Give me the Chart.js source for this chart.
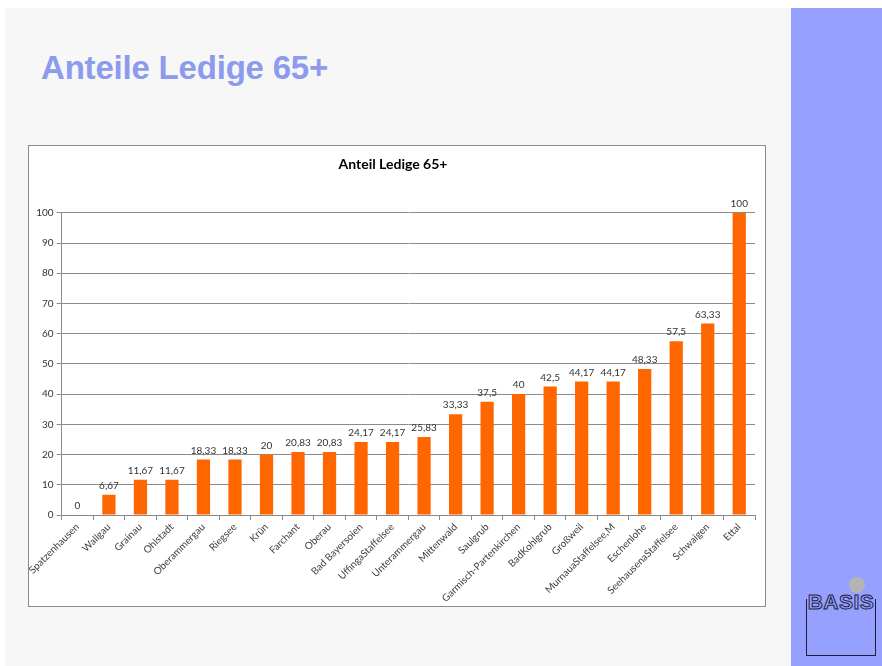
<!DOCTYPE html>
<html>
<head>
<meta charset="utf-8">
<script src="https://cdn.jsdelivr.net/npm/chart.js@4/dist/chart.umd.min.js"></script>
<style>
  html, body { margin: 0; padding: 0; background: #ffffff; }
  body { width: 882px; height: 666px; position: relative; overflow: hidden; }
  #page { position: absolute; left: 5px; top: 8px; width: 786px; height: 658px; background: #f7f7f7; }
  #side { position: absolute; left: 791px; top: 8px; width: 91px; height: 658px; background: #96a0fe; }
  #heading { position: absolute; left: 41px; top: 49px; font-family: "Liberation Sans", Arial, sans-serif; font-weight: bold; font-size: 33px; color: #8c9bee; letter-spacing: -0.2px; }
  #box { position: absolute; left: 28px; top: 145px; width: 736px; height: 460px; background: #ffffff; border: 1px solid #8a8a8a; }
  #c { position: absolute; left: 0; top: 0; }
  #logoCircle { position: absolute; left: 849px; top: 577px; width: 16px; height: 16px; border-radius: 50%; background: #b4b4b4; }
  #logoBox { position: absolute; left: 806px; top: 599px; width: 68px; height: 56px; border: 1.5px solid #1e1e3c; border-top: none; }
  #logoText { position: absolute; left: 803px; top: 590px; width: 76px; text-align: center; font-family: "Liberation Sans", sans-serif; font-weight: bold; font-size: 21px; color: #96a0fe; -webkit-text-stroke: 1px #1e1e3c; letter-spacing: 0.5px; }
</style>
</head>
<body>
<div id="page"></div>
<div id="side"></div>
<div id="heading">Anteile Ledige 65+</div>
<div id="box"><canvas id="c" width="736" height="460"></canvas></div>
<div id="logoCircle"></div>
<div id="logoBox"></div>
<div id="logoText">BASIS</div>
<script>
const categories = ["Spatzenhausen", "Wallgau", "Grainau", "Ohlstadt", "Oberammergau", "Riegsee", "Krün", "Farchant", "Oberau", "Bad Bayersoien", "UffingaStaffelsee", "Unterammergau", "Mittenwald", "Saulgrub", "Garmisch-Partenkirchen", "BadKohlgrub", "Großweil", "MurnauaStaffelsee,M", "Eschenlohe", "SeehausenaStaffelsee", "Schwaigen", "Ettal"];
const values = [0, 6.67, 11.67, 11.67, 18.33, 18.33, 20, 20.83, 20.83, 24.17, 24.17, 25.83, 33.33, 37.5, 40, 42.5, 44.17, 44.17, 48.33, 57.5, 63.33, 100];
const yTicks = [0, 10, 20, 30, 40, 50, 60, 70, 80, 90, 100];
const chartTitle = "Anteil Ledige 65+";

const FONT = "Lato, 'Open Sans', sans-serif";

const valueLabels = {
  id: 'valueLabels',
  afterDatasetsDraw(chart) {
    const ctx = chart.ctx;
    const meta = chart.getDatasetMeta(0);
    ctx.save();
    ctx.font = "10px " + FONT;
    ctx.fillStyle = "#333333";
    ctx.textAlign = "center";
    ctx.textBaseline = "bottom";
    meta.data.forEach((bar, i) => {
      const txt = String(values[i]).replace('.', ',');
      ctx.fillText(txt, bar.x, bar.y - 4);
    });
    ctx.restore();
  }
};

new Chart(document.getElementById('c'), {
  type: 'bar',
  data: {
    labels: categories,
    datasets: [{
      data: values,
      backgroundColor: '#ff6600',
      borderWidth: 0,
      barPercentage: 0.42,
      categoryPercentage: 1.0
    }]
  },
  options: {
    responsive: false,
    animation: false,
    events: [],
    layout: { padding: { left: 2, right: 10, top: 0, bottom: 4 } },
    plugins: {
      legend: { display: false },
      tooltip: { enabled: false },
      title: {
        display: true,
        text: chartTitle,
        color: '#000000',
        font: { family: FONT, size: 14, weight: 'bold' },
        padding: { top: 10, bottom: 40 }
      }
    },
    scales: {
      x: {
        offset: true,
        grid: { display: true, offset: true, drawOnChartArea: false, drawTicks: true, tickLength: 5, color: '#8a8a8a' },
        border: { display: true, color: '#8a8a8a', width: 1 },
        ticks: {
          autoSkip: false,
          maxRotation: 45,
          minRotation: 45,
          color: '#404040',
          font: { family: FONT, size: 10 },
          padding: 1
        },
        afterFit(scale) { scale.height = 87; }
      },
      y: {
        min: 0,
        max: 100,
        afterBuildTicks(scale) { scale.ticks = yTicks.map(v => ({ value: v })); },
        grid: { color: '#8c8c8c', tickLength: 5, drawTicks: true },
        border: { display: true, color: '#8a8a8a', width: 1 },
        ticks: {
          color: '#333333',
          font: { family: FONT, size: 10 },
          padding: 3
        },
        afterFit(scale) { scale.width = 30; }
      }
    }
  },
  plugins: [valueLabels]
});
</script>
</body>
</html>
